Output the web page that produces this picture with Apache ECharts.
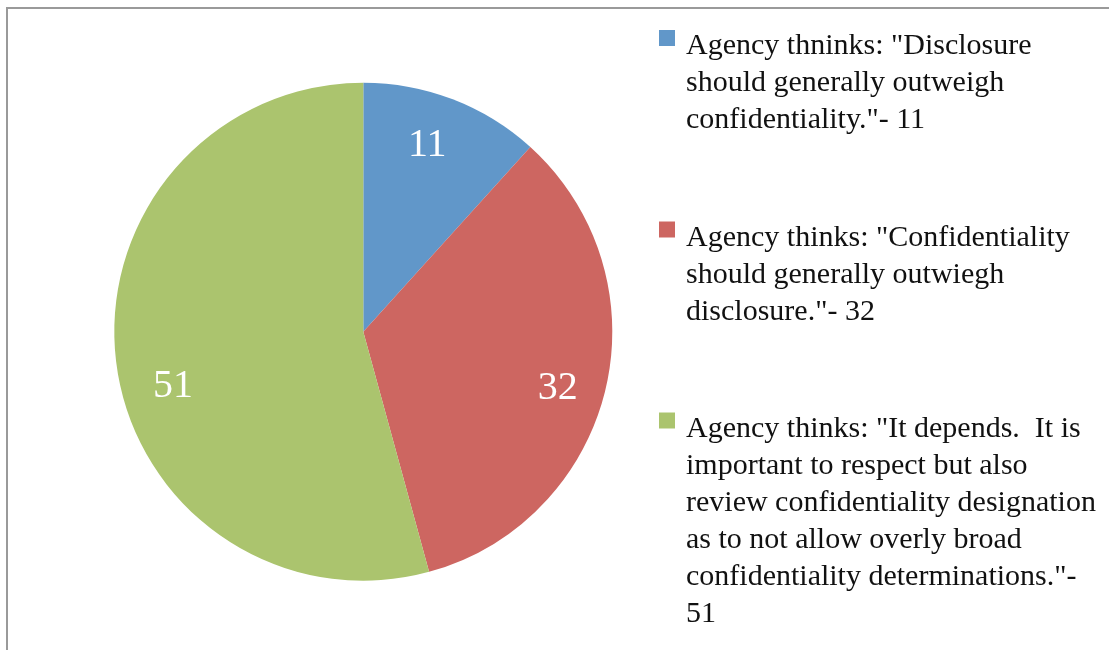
<!DOCTYPE html>
<html>
<head>
<meta charset="utf-8">
<script src="https://cdn.jsdelivr.net/npm/echarts@6/dist/echarts.min.js"></script>
<style>html,body{margin:0;padding:0;background:#fff}#c{width:1109px;height:650px}</style>
</head>
<body>
<div id="c"></div>
<script>
const categories = [
  'Agency thninks: "Disclosure should generally outweigh confidentiality."',
  'Agency thinks: "Confidentiality should generally outwiegh disclosure."',
  'Agency thinks: "It depends.  It is important to respect but also review confidentiality designation as to not allow overly broad confidentiality determinations."'
];
const values = [11, 32, 51];
const colors = ['#6197C9', '#CD6661', '#ABC46E'];
const legendLines = [
  ['Agency thninks: "Disclosure', 'should generally outweigh', 'confidentiality."- 11'],
  ['Agency thinks: "Confidentiality', 'should generally outwiegh', 'disclosure."- 32'],
  ['Agency thinks: "It depends.  It is', 'important to respect but also', 'review confidentiality designation', 'as to not allow overly broad', 'confidentiality determinations."-', '51']
];
// small nudges of the value labels (Excel-style placement)
const labelNudge = [[-9, 3], [-3, 10], [11, 28]];

const FONT = '"Liberation Serif", "Times New Roman", serif';
const LH = 37, FS = 30, DELTA = 8.5;
const iconTops = [30, 221.5, 412.5];

const legends = categories.map(function (name, i) {
  const n = legendLines[i].length;
  const spacer = (n - 1) * LH + 2 * DELTA;
  const total = spacer + n * LH;
  return {
    orient: 'vertical',
    left: 659,
    top: iconTops[i] + 8 - total / 2,
    padding: 0,
    itemWidth: 16,
    itemHeight: 16,
    selectedMode: false,
    icon: 'rect',
    data: [{ name: name, itemStyle: { color: colors[i] } }],
    formatter: function () {
      return '{s| }\n' + legendLines[i].map(function (l) { return '{t|' + l + '}'; }).join('\n');
    },
    textStyle: {
      fontFamily: FONT, fontSize: FS, lineHeight: LH, color: '#111',
      padding: [0, 0, 0, 6],
      rich: {
        s: { fontFamily: FONT, fontSize: 2, lineHeight: spacer, height: spacer },
        t: { fontFamily: FONT, fontSize: FS, lineHeight: LH, color: '#111' }
      }
    }
  };
});

const pieData = categories.map(function (name, i) {
  return { name: name, value: values[i], itemStyle: { color: colors[i] } };
});
const labelData = categories.map(function (name, i) {
  return { name: name, value: values[i], label: { offset: labelNudge[i] } };
});

const chart = echarts.init(document.getElementById('c'), null, { renderer: 'canvas' });
chart.setOption({
  backgroundColor: '#fff',
  animation: false,
  legend: legends,
  graphic: [{
    type: 'rect', silent: true, z: -10,
    shape: { x: 7, y: 8, width: 1300, height: 900 },
    style: { fill: 'none', stroke: '#9a9a9a', lineWidth: 2 }
  }],
  series: [
    {
      type: 'pie', center: [363.3, 331.7], radius: [0, 249],
      startAngle: 90, clockwise: true, silent: true,
      label: { show: false }, labelLine: { show: false },
      itemStyle: { borderWidth: 0 },
      data: pieData
    },
    {
      type: 'pie', center: [363.3, 331.7], radius: [151, 249],
      startAngle: 90, clockwise: true, silent: true, legendHoverLink: false,
      itemStyle: { color: 'rgba(0,0,0,0)', borderWidth: 0 },
      label: {
        show: true, position: 'inside', formatter: '{c}',
        color: '#fff', fontFamily: FONT, fontSize: 40
      },
      labelLine: { show: false },
      data: labelData
    }
  ]
});
</script>
</body>
</html>
